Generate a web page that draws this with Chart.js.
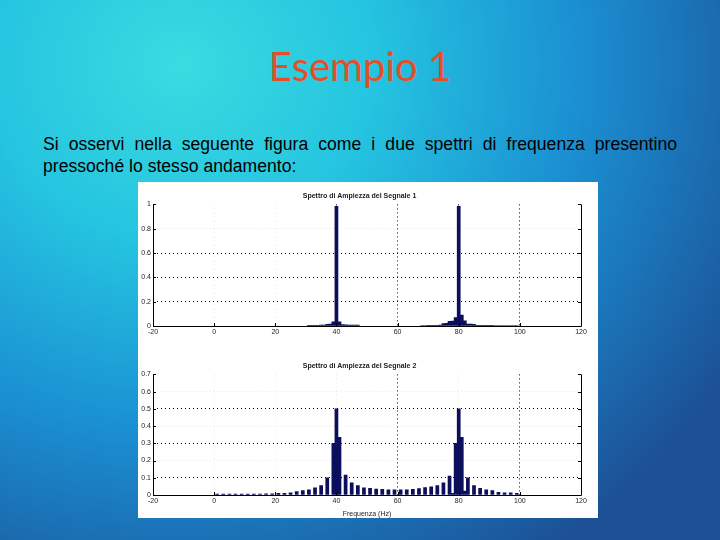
<!DOCTYPE html>
<html>
<head>
<meta charset="utf-8">
<script src="https://cdn.jsdelivr.net/npm/chart.js@4"></script>
<style>
  html, body { margin: 0; padding: 0; }
  body {
    width: 720px; height: 540px; position: relative; overflow: hidden;
    background: radial-gradient(ellipse 90% 110% at 25% 12%, #3adbe0 0%, #25c4e0 30%, #1a8fd2 62%, #1c4f94 100%);
  }
  #title {
    position: absolute; left: 0; width: 720px; top: 42px; text-align: center;
    font-family: Lato, "Open Sans", sans-serif; font-size: 40px; color: #e2502a;
  }
  #text {
    position: absolute; left: 43px; top: 133px; width: 634px;
    font-family: "Liberation Sans", Arial, sans-serif; font-size: 17.6px; line-height: 22px;
    color: #000; text-align: justify; text-align-last: left;
  }
  #figure {
    position: absolute; left: 138px; top: 182px; width: 460px; height: 336px; background: #fff;
  }
  canvas { position: absolute; left: 0; }
</style>
</head>
<body>
<div id="title">Esempio 1</div>
<div id="text">Si osservi nella seguente figura come i due spettri di frequenza presentino pressoché lo stesso andamento:</div>
<div id="figure">
  <canvas id="spettro1" width="460" height="158" style="top:0"></canvas>
  <canvas id="spettro2" width="460" height="178" style="top:158px"></canvas>
</div>
<script>
// --- dati ---
const xTicks = [-20, 0, 20, 40, 60, 80, 100, 120];
const yTicks1 = [0, 0.2, 0.4, 0.6, 0.8, 1];
const yTicks2 = [0, 0.1, 0.2, 0.3, 0.4, 0.5, 0.6, 0.7];

// Segnale 1
const freq1 = [31, 32, 33, 34, 35, 36, 37, 38, 39, 40, 41, 42, 43, 44, 45, 46, 47,
               68, 69, 70, 71, 72, 73, 74, 75, 76, 77, 78, 79, 80, 81, 82, 83, 84, 85,
               86, 87, 88, 89, 90, 91, 92, 93, 94, 95, 96, 97, 98, 99];
const amp1  = [0.005, 0.005, 0.006, 0.006, 0.007, 0.008, 0.013, 0.015, 0.035, 0.985, 0.035, 0.012, 0.01, 0.008, 0.008, 0.007, 0.007,
               0.004, 0.004, 0.005, 0.005, 0.006, 0.006, 0.008, 0.02, 0.022, 0.038, 0.04, 0.07, 0.985, 0.09, 0.042, 0.016, 0.015, 0.014,
               0.006, 0.005, 0.005, 0.005, 0.005, 0.005, 0.004, 0.004, 0.004, 0.004, 0.004, 0.004, 0.004, 0.004];

// Segnale 2
const freq2 = [1, 3, 5, 7, 9, 11, 13, 15, 17, 19, 21, 23, 25, 27, 29, 31, 33, 35, 37,
               39, 40, 41, 43, 45, 47, 49, 51, 53, 55, 57, 59, 61, 63, 65, 67, 69, 71, 73, 75, 77,
               78, 79, 80, 81, 82, 83, 85, 87, 89, 91, 93, 95, 97, 99];
const amp2  = [0.006, 0.006, 0.006, 0.006, 0.006, 0.006, 0.006, 0.006, 0.007, 0.007, 0.01, 0.01, 0.013, 0.02, 0.025, 0.03, 0.042, 0.055, 0.1,
               0.3, 0.5, 0.335, 0.115, 0.07, 0.055, 0.042, 0.038, 0.035, 0.033, 0.03, 0.03, 0.03, 0.03, 0.033, 0.037, 0.043, 0.048, 0.055, 0.07, 0.11,
               0.01, 0.3, 0.5, 0.335, 0.023, 0.1, 0.055, 0.038, 0.03, 0.025, 0.015, 0.013, 0.012, 0.01];

// griglia sbiadita nella scansione
const fadedX1 = [0, 20];
const fadedY1 = [0.8];
const fadedX2 = [0, 20, 40, 80];
const fadedY2 = [0.2, 0.4, 0.6];

const barColor = '#0c0f5c';
const tickFont = { family: 'Liberation Sans', size: 7 };

// cornice stile MATLAB: assi sinistro, inferiore e destro con tacche verso l'interno
const framePlugin = {
    id: 'frame',
    afterDraw(chart) {
        const { ctx, chartArea: a, scales } = chart;
        ctx.save();
        ctx.strokeStyle = '#000';
        ctx.lineWidth = 1;
        ctx.beginPath();
        ctx.moveTo(a.left + 0.5, a.top);
        ctx.lineTo(a.left + 0.5, a.bottom + 0.5);
        ctx.lineTo(a.right + 0.5, a.bottom + 0.5);
        ctx.lineTo(a.right + 0.5, a.top);
        scales.x.ticks.forEach(t => {
            const px = Math.round(scales.x.getPixelForValue(t.value)) + 0.5;
            ctx.moveTo(px, a.bottom);
            ctx.lineTo(px, a.bottom - 3);
        });
        scales.y.ticks.forEach(t => {
            const py = Math.round(scales.y.getPixelForValue(t.value)) + 0.5;
            ctx.moveTo(a.left, py);
            ctx.lineTo(a.left + 3, py);
            ctx.moveTo(a.right, py);
            ctx.lineTo(a.right - 3, py);
        });
        ctx.stroke();
        ctx.restore();
    }
};

function gridColor(value, faded, min, max) {
    if (value === min || value === max) return 'rgba(0,0,0,0)';
    return faded.includes(value) ? 'rgba(0,0,0,0.1)' : '#000';
}

function makeChart(id, freqs, amps, yTicks, fadedX, fadedY, title, titleTop, xTitle, xHeight) {
    const yMax = yTicks[yTicks.length - 1];
    return new Chart(document.getElementById(id), {
        type: 'bar',
        data: {
            datasets: [{
                data: freqs.map((f, i) => ({ x: f, y: amps[i] })),
                backgroundColor: barColor,
                borderWidth: 0,
                barPercentage: 1,
                categoryPercentage: 1
            }]
        },
        options: {
            responsive: false,
            animation: false,
            devicePixelRatio: 1,
            layout: { padding: { right: 17, left: 0, bottom: 0, top: 0 } },
            plugins: {
                legend: { display: false },
                tooltip: { enabled: false },
                title: {
                    display: true, text: title, color: '#222',
                    font: tickFont, padding: { top: titleTop, bottom: 4 }
                }
            },
            scales: {
                x: {
                    type: 'linear', min: -20, max: 120, offset: false,
                    afterBuildTicks: s => { s.ticks = xTicks.map(v => ({ value: v })); },
                    afterFit: s => { s.height = xHeight; },
                    ticks: { font: tickFont, color: '#222', padding: 2, maxRotation: 0, callback: v => String(v) },
                    grid: {
                        offset: false, drawTicks: false, lineWidth: 1,
                        color: c => gridColor(c.tick ? c.tick.value : null, fadedX, -20, 120)
                    },
                    border: { display: false, dash: [1, 3] },
                    title: { display: !!xTitle, text: xTitle, font: tickFont, color: '#222', padding: 0 }
                },
                y: {
                    min: 0, max: yMax,
                    afterBuildTicks: s => { s.ticks = yTicks.map(v => ({ value: v })); },
                    afterFit: s => { s.width = 15; },
                    ticks: { font: tickFont, color: '#222', padding: 2, callback: v => String(+v.toFixed(2)) },
                    grid: {
                        drawTicks: false, lineWidth: 1,
                        color: c => gridColor(c.tick ? c.tick.value : null, fadedY, 0, yMax)
                    },
                    border: { display: false, dash: [1, 3] }
                }
            }
        },
        plugins: [framePlugin]
    });
}

makeChart('spettro1', freq1, amp1, yTicks1, fadedX1, fadedY1,
    'Spettro di Ampiezza del Segnale 1', 10, '', 14);
makeChart('spettro2', freq2, amp2, yTicks2, fadedX2, fadedY2,
    'Spettro di Ampiezza del Segnale 2', 22, 'Frequenza (Hz)', 23);
</script>
</body>
</html>
